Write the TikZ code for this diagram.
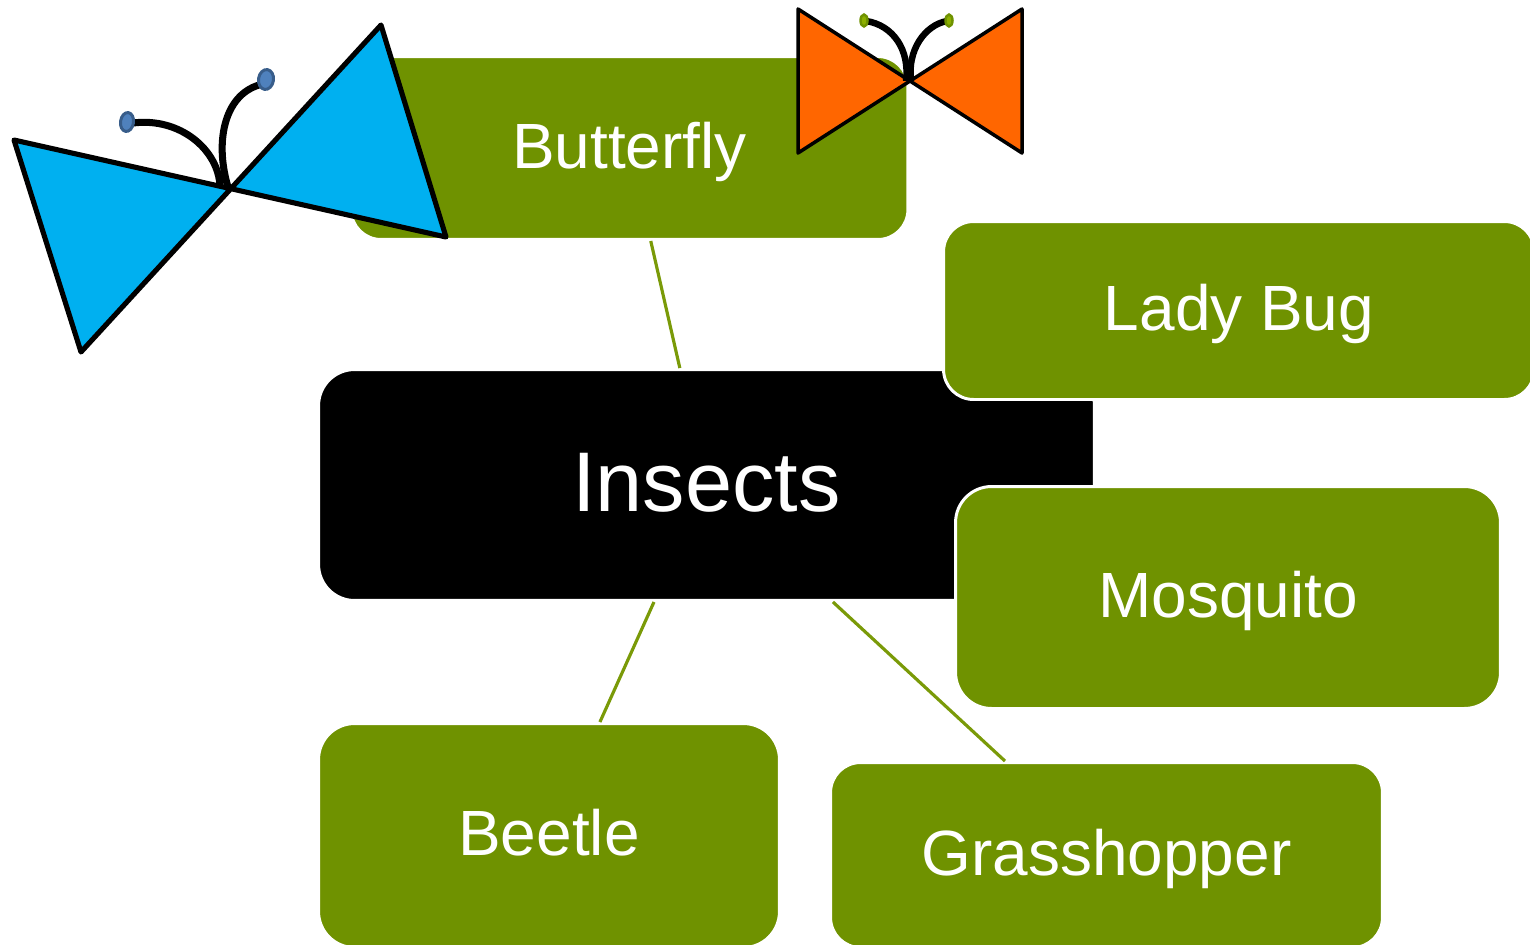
\documentclass[tikz,border=0pt]{standalone}
\usepackage{fontspec}
\setmainfont{Liberation Sans}
\usepackage{xcolor}
\usepackage{tikz}
\definecolor{leafgreen}{HTML}{6F9200}
\definecolor{edgegreen}{HTML}{7A9A08}
\definecolor{wingblue}{HTML}{00B0F0}
\definecolor{wingorange}{HTML}{FF6600}
\definecolor{budblue}{HTML}{4F81BD}
\definecolor{budrim}{HTML}{385D8A}
\definecolor{budgreen}{HTML}{8DB000}
\tikzset{
  topicbox/.style={draw=white,line width=1.7pt,fill=leafgreen,text=white,anchor=center,
    inner sep=0pt,text height=22.8pt,text depth=0pt,font=\fontsize{36.4}{40}\selectfont},
  link/.style={draw=edgegreen,line width=1.8pt},
  wing/.style={draw=black,line join=round},
  feeler/.style={draw=black,line cap=butt},
  bluebud/.style={draw=budrim,fill=budblue,line width=1.7pt},
  greenbud/.style={draw=leafgreen,fill=budgreen,line width=1.4pt},
}
\begin{document}
\begin{tikzpicture}[x=0.02cm,y=-0.02cm]
      \useasboundingbox (0,0) rectangle (1530,944);
      \node[topicbox,rounded corners=0.6cm,minimum width=11.14cm,minimum height=3.66cm] (butterfly) at (629.5,148) {Butterfly};
      \node[topicbox,fill=black,rounded corners=0.72cm,minimum width=15.52cm,minimum height=4.62cm,text height=29.8pt,font=\fontsize{48.2}{52}\selectfont] (insects) at (706.5,485) {Insects};
      \node[topicbox,rounded corners=0.6cm,minimum width=11.82cm,minimum height=3.56cm] (ladybug) at (1239,310.5) {Lady Bug};
      \node[topicbox,rounded corners=0.72cm,minimum width=10.9cm,minimum height=4.44cm] (mosquito) at (1228,597.5) {Mosquito};
      \node[topicbox,rounded corners=0.72cm,minimum width=9.22cm,minimum height=4.48cm] (beetle) at (549,835.5) {Beetle};
      \node[topicbox,rounded corners=0.6cm,minimum width=11.04cm,minimum height=3.7cm] (grasshopper) at (1106.5,855) {Grasshopper};
      \draw[link] (butterfly) -- (insects);
      \draw[link] (insects) -- (beetle);
      \draw[link] (insects) -- (grasshopper);
      % blue butterfly
      \coordinate (B1) at (14,140);
      \coordinate (B2) at (446,237);
      \coordinate (B3) at (381,25);
      \coordinate (B4) at (81,352);
      \draw[wing,fill=wingblue,line width=2.9pt] (B1)--(B2)--(B3)--(B4)--cycle;
      \draw[feeler,line width=4pt] (220,187) .. controls (219,150) and (180,117) .. (133,123);
      \draw[feeler,line width=4pt] (228,187) .. controls (214,140) and (225,92) .. (263,84);
      \draw[bluebud,rotate around={-8:(127,122)}] (127,122) ellipse (6.5 and 9.5);
      \draw[bluebud,rotate around={-8:(266,79.5)}] (266,79.5) ellipse (7.5 and 10);
      % orange butterfly
      \coordinate (O1) at (798,9);
      \coordinate (O2) at (1022,153);
      \coordinate (O3) at (1022,9);
      \coordinate (O4) at (798,153);
      \draw[wing,fill=wingorange,line width=2pt] (O1)--(O2)--(O3)--(O4)--cycle;
      \draw[feeler,line width=3.7pt] (906,81) .. controls (910,50) and (893,25) .. (866,21);
      \draw[feeler,line width=3.7pt] (911,81) .. controls (907,50) and (925,25) .. (947,21);
      \draw[greenbud] (864,20.5) ellipse (3.5 and 6);
      \draw[greenbud] (949,20.5) ellipse (3.5 and 6);
    \end{tikzpicture}
\end{document}
